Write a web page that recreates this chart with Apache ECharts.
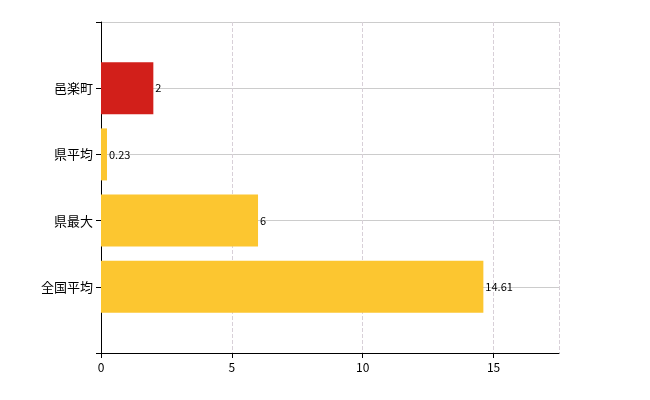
<!DOCTYPE html>
<html><head><meta charset="utf-8">
<script src="https://cdn.jsdelivr.net/npm/echarts@6/dist/echarts.min.js"></script>
</head><body style="margin:0">
<div id="c" style="width:650px;height:400px"></div>
<script>
const categories = ['', '邑楽町', '県平均', '県最大', '全国平均', ''];
const values = [null, 2, 0.23, 6, 14.61, null];
const colors = [null, '#d21f1a', '#fcc630', '#fcc630', '#fcc630', null];
const chart = echarts.init(document.getElementById('c'));
chart.setOption({
  animation: false,
  textStyle: {fontFamily: 'Noto Sans CJK JP, sans-serif'},
  grid: {left: 101, right: 91, top: 22, bottom: 47},
  xAxis: {
    type: 'value', min: 0, max: 17.5, interval: 5,
    axisLine: {show: true, lineStyle: {color: '#000'}},
    axisTick: {show: true, length: 5, lineStyle: {color: '#000'}},
    axisLabel: {color: '#000', fontSize: 12, margin: 8, showMaxLabel: false},
    splitLine: {lineStyle: {color: '#d8d0d8', type: [4, 2]}}
  },
  yAxis: {
    type: 'category', data: categories, inverse: true, boundaryGap: false,
    axisLine: {show: true, lineStyle: {color: '#000'}},
    axisTick: {show: true, length: 5, lineStyle: {color: '#000'}},
    axisLabel: {color: '#000', fontSize: 13, margin: 8},
    splitLine: {show: true, lineStyle: {color: '#ccc'}}
  },
  series: [{
    type: 'bar', barWidth: 52,
    data: values.map((v, i) => v == null ? null : {value: v, itemStyle: {color: colors[i]}}),
    label: {show: true, position: 'right', distance: 2, color: '#000', fontSize: 11}
  }]
});
</script></body></html>
